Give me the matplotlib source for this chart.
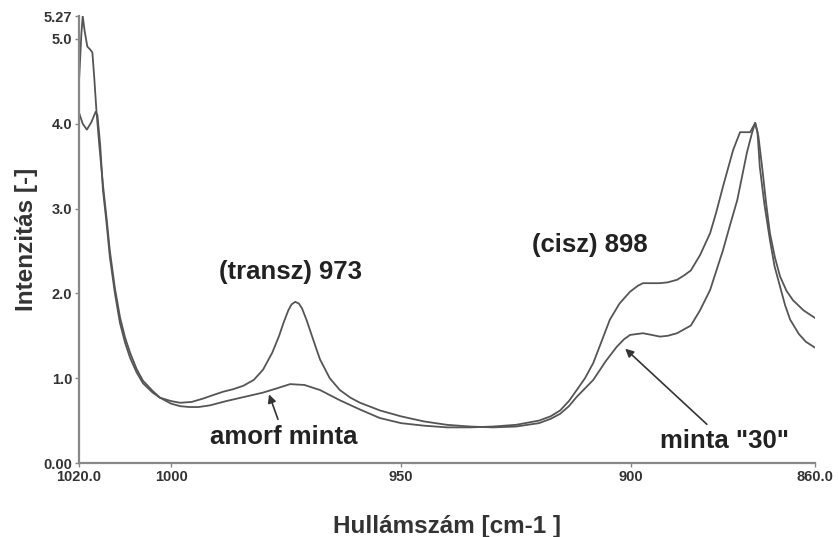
import numpy as np
import matplotlib.pyplot as plt

# minta "30" (erős transz sáv 973-nál)
hsz_30 = [1020.0, 1019.2, 1018.3, 1017.3, 1016.4, 1016.0, 1015.4, 1014.8, 1014.0, 1013.3,
          1012.2, 1011.1, 1010.0, 1008.9, 1007.5, 1006.1, 1004.0, 1002.4, 1000.0, 998.0,
          995.5, 993.0, 990.9, 988.7, 986.5, 984.3, 982.0, 980.0, 978.0, 976.5,
          975.5, 974.5, 973.8, 973.0, 972.2, 971.5, 970.5, 969.5, 968.5, 967.6,
          965.5, 963.3, 961.0, 958.9, 956.5, 954.6, 950.0, 945.0, 940.0, 935.0,
          930.0, 925.0, 920.0, 917.5, 915.4, 913.5, 911.8, 910.0, 908.2, 905.5,
          903.1, 901.5, 900.2, 897.4, 895.5, 893.7, 892.0, 890.0, 887.0, 885.0,
          882.8, 880.0, 878.5, 876.9, 874.8, 873.7, 873.0, 872.5, 872.0, 871.0,
          869.8, 868.8, 867.6, 866.5, 865.4, 863.5, 862.0, 860.0]
int_30 = [4.13, 4.00, 3.93, 4.02, 4.14, 4.10, 3.75, 3.22, 2.82, 2.43,
          2.00, 1.65, 1.42, 1.24, 1.07, 0.94, 0.83, 0.77, 0.73, 0.71,
          0.72, 0.76, 0.80, 0.84, 0.87, 0.91, 0.98, 1.10, 1.30, 1.50,
          1.66, 1.80, 1.87, 1.90, 1.88, 1.82, 1.68, 1.52, 1.36, 1.22,
          1.00, 0.86, 0.77, 0.71, 0.66, 0.62, 0.55, 0.49, 0.45, 0.43,
          0.42, 0.43, 0.47, 0.52, 0.58, 0.67, 0.78, 0.88, 0.98, 1.20,
          1.37, 1.46, 1.51, 1.53, 1.51, 1.49, 1.50, 1.53, 1.62, 1.80,
          2.04, 2.51, 2.80, 3.10, 3.66, 3.89, 4.01, 3.90, 3.49, 3.05,
          2.63, 2.32, 2.08, 1.86, 1.69, 1.52, 1.43, 1.36]

# amorf minta
hsz_amorf = [1020.0, 1019.5, 1019.2, 1018.8, 1018.2, 1017.5, 1017.1, 1016.7, 1016.2, 1015.6,
             1014.8, 1014.0, 1013.3, 1012.2, 1011.1, 1010.0, 1008.9, 1007.5, 1006.1, 1004.0,
             1002.4, 1000.0, 998.0, 996.0, 994.0, 991.5, 988.0, 984.0, 980.0, 977.0,
             974.1, 971.0, 967.6, 963.3, 958.9, 954.6, 950.0, 945.0, 940.0, 935.0,
             930.0, 925.0, 920.0, 917.5, 915.4, 913.5, 911.8, 910.0, 908.2, 906.5,
             904.6, 902.5, 900.2, 898.5, 897.4, 895.5, 893.7, 892.0, 890.0, 888.5,
             887.0, 885.0, 882.8, 881.5, 880.0, 877.8, 876.3, 874.1, 873.0, 872.3,
             871.5, 870.6, 869.8, 868.7, 867.6, 866.2, 864.8, 862.5, 860.0]
int_amorf = [4.50, 5.05, 5.27, 5.10, 4.91, 4.87, 4.84, 4.55, 4.14, 3.75,
             3.28, 2.88, 2.50, 2.06, 1.72, 1.48, 1.30, 1.11, 0.97, 0.85,
             0.77, 0.70, 0.67, 0.66, 0.66, 0.68, 0.73, 0.78, 0.83, 0.88,
             0.93, 0.92, 0.86, 0.74, 0.63, 0.53, 0.47, 0.44, 0.42, 0.42,
             0.43, 0.45, 0.50, 0.55, 0.62, 0.73, 0.86, 1.00, 1.18, 1.42,
             1.69, 1.88, 2.02, 2.09, 2.12, 2.12, 2.12, 2.13, 2.16, 2.21,
             2.27, 2.45, 2.71, 2.95, 3.26, 3.69, 3.90, 3.90, 4.01, 3.85,
             3.49, 3.05, 2.71, 2.42, 2.20, 2.03, 1.92, 1.80, 1.71]

x_ticks = [1020, 1000, 950, 900, 860]
x_tick_labels = ['1020.0', '1000', '950', '900', '860.0']
y_ticks = [0, 1, 2, 3, 4, 5, 5.27]
y_tick_labels = ['0.00', '1.0', '2.0', '3.0', '4.0', '5.0', '5.27']

plt.rcParams['font.family'] = ['Liberation Sans', 'DejaVu Sans']

fig = plt.figure(figsize=(8.39, 5.37), dpi=100)
ax = fig.add_axes([0.0942, 0.1378, 0.8772, 0.8324])

vonal = '#555555'
ax.plot(hsz_30, int_30, color=vonal, lw=1.3)
ax.plot(hsz_amorf, int_amorf, color=vonal, lw=1.3)

ax.set_xlim(1020, 860)
ax.set_ylim(0, 5.27)
ax.set_xticks(x_ticks)
ax.set_xticklabels(x_tick_labels)
ax.set_yticks(y_ticks)
ax.set_yticklabels(y_tick_labels)
ax.tick_params(length=3, width=1, color='#888888', labelsize=10.5,
               labelcolor='#333333', pad=2)
for lab in ax.get_xticklabels() + ax.get_yticklabels():
    lab.set_fontweight('bold')

for s in ['top', 'right']:
    ax.spines[s].set_visible(False)
for s in ['left', 'bottom']:
    ax.spines[s].set_color('#888888')
    ax.spines[s].set_linewidth(1.6)

ax.set_xlabel('Hullámszám [cm-1 ]', fontsize=17.5, fontweight='bold',
              color='#333333', labelpad=22)
ax.set_ylabel('Intenzitás [-]', fontsize=17.5, fontweight='bold',
              color='#333333', labelpad=4)

szoveg = dict(fontsize=18.5, fontweight='bold', color='#222222',
              ha='center', va='center')
ax.text(974.1, 2.25, '(transz) 973', **szoveg)
ax.text(908.9, 2.57, '(cisz) 898', **szoveg)

nyil = dict(arrowstyle='-|>', color='#333333', lw=1.2, mutation_scale=12)
ax.annotate('amorf minta', xy=(978.9, 0.84), xytext=(975.4, 0.31),
            arrowprops=nyil, **szoveg)
ax.annotate('minta "30"', xy=(901.7, 1.37), xytext=(879.6, 0.26),
            arrowprops=nyil, **szoveg)

fig.savefig('out.png', dpi=100)
